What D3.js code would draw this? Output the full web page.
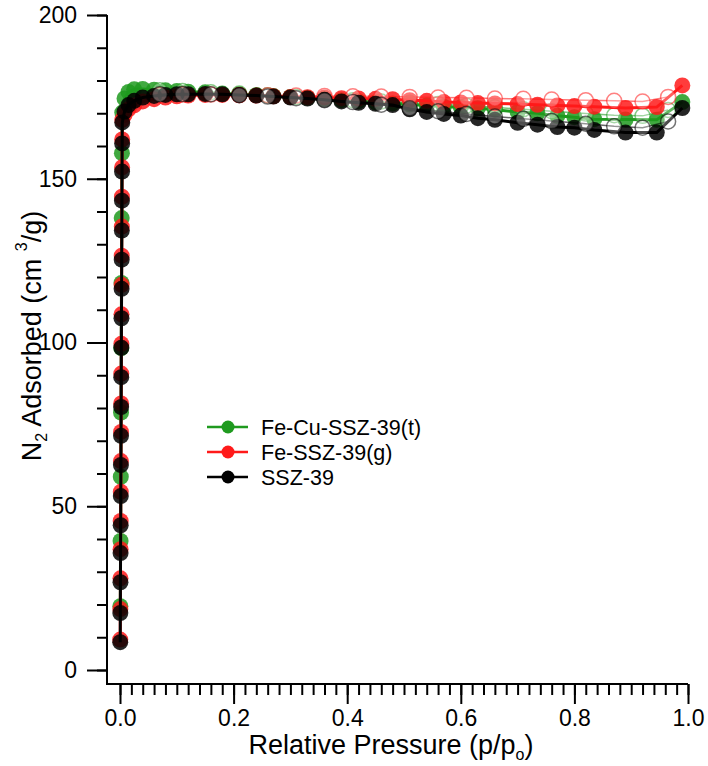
<!DOCTYPE html>
<html>
<head>
<meta charset="utf-8">
<script src="https://cdn.jsdelivr.net/npm/d3@7"></script>
<style>
  body { margin: 0; background: #fff; }
  text { font-family: "Liberation Sans", Arial, Helvetica, sans-serif; fill: #000; }
</style>
</head>
<body>
<div id="chartArea"></div>
<script>
// series names + colours
var seriesNames = ["Fe-Cu-SSZ-39(t)", "Fe-SSZ-39(g)", "SSZ-39"];
var seriesColors = ["#1f9a1f", "#ff1a1a", "#000000"];

// steep rise at p/po ~ 0 (adsorption)
var riseP = [0.0004, 0.0006, 0.0008, 0.001, 0.0012, 0.0014, 0.0016, 0.0018, 0.002, 0.0022,
             0.0024, 0.0026, 0.0028, 0.003, 0.0032, 0.0034, 0.0036, 0.0038, 0.004];
var greenRiseP = [0.0006, 0.001, 0.0014, 0.0018, 0.0022, 0.0026, 0.003, 0.0034, 0.004];
var greenRise = [19.5, 39.4, 59.0, 78.6, 98.3, 118.2, 138.0, 157.8, 170.2];
var redRise = [9.3, 18.6, 28.0, 36.9, 45.5, 54.4, 63.8, 72.7, 81.4, 90.5,
               99.6, 108.6, 117.6, 126.5, 135.4, 144.5, 153.5, 162.0, 168.0];
var blackRise = [8.5, 17.4, 26.8, 35.7, 44.2, 53.1, 62.6, 71.5, 80.3, 89.4,
                 98.4, 107.4, 116.4, 125.3, 134.2, 143.3, 152.2, 160.8, 167.2];

// knee + plateau (adsorption, filled)
var adsP = [0.008, 0.015, 0.025, 0.04, 0.06, 0.08, 0.1, 0.12, 0.15, 0.18, 0.21, 0.24, 0.27, 0.3,
            0.33, 0.36, 0.39, 0.42, 0.45, 0.48, 0.51, 0.54, 0.57, 0.6, 0.63, 0.66, 0.7, 0.735,
            0.77, 0.8, 0.835, 0.89, 0.945, 0.99];
var greenAds = [174.5, 176.5, 177.3, 177.4, 177.2, 177.0, 176.8, 176.6, 176.4, 176.0, 175.8, 175.6,
                175.3, 175.0, 174.7, 174.4, 174.0, 173.7, 173.3, 173.0, 172.7, 172.4, 172.0, 171.8,
                171.5, 171.1, 170.4, 170.0, 169.2, 168.8, 168.2, 168.1, 168.0, 173.4];
var redAds = [169.5, 171.2, 172.4, 173.6, 174.3, 174.8, 175.2, 175.4, 175.6, 175.6, 175.5, 175.4,
              175.2, 175.0, 174.9, 174.8, 174.6, 174.5, 174.4, 174.3, 174.0, 173.8, 173.4, 173.3,
              173.1, 173.0, 172.8, 172.6, 172.4, 172.2, 172.0, 171.6, 171.9, 178.5];
var blackAds = [170.5, 172.5, 173.8, 174.8, 175.3, 175.6, 175.8, 175.8, 175.9, 175.8, 175.6, 175.4,
                175.1, 174.8, 174.5, 174.1, 173.6, 173.2, 172.9, 172.5, 171.2, 170.4, 169.8, 169.3,
                168.5, 168.0, 167.1, 166.5, 165.8, 165.6, 164.9, 164.1, 164.1, 171.6];

// desorption branch (open circles)
var desP = [0.965, 0.92, 0.87, 0.82, 0.76, 0.71, 0.66, 0.61, 0.56, 0.51, 0.46, 0.41, 0.36,
            0.31, 0.26, 0.21, 0.16, 0.11, 0.07];
var greenDes = [171.0, 169.2, 169.4, 169.9, 170.6, 171.2, 171.8, 172.3, 172.8, 173.2, 173.6, 174.0,
                174.5, 175.0, 175.5, 176.0, 176.4, 176.8, 177.0];
var redDes = [175.0, 173.6, 173.8, 174.0, 174.2, 174.4, 174.5, 174.7, 174.8, 175.0, 175.1, 175.2,
              175.3, 175.4, 175.5, 175.6, 175.7, 175.7, 175.6];
var blackDes = [167.5, 165.6, 166.0, 166.8, 167.6, 168.3, 169.0, 169.8, 170.6, 171.5, 172.6, 173.4,
                174.0, 174.6, 175.1, 175.5, 175.8, 175.9, 175.8];

var xMajor = [0, 0.2, 0.4, 0.6, 0.8, 1.0];
var yMajor = [0, 50, 100, 150, 200];

var width = 708, height = 766;

var svg = d3.select("#chartArea")
    .append("svg")
    .attr("width", width)
    .attr("height", height)

var x = d3.scaleLinear().domain([0, 1]).range([120, 688]);
var y = d3.scaleLinear().domain([0, 200]).range([670, 15]);
var axisY = 684; // where the x axis line sits
var axisX = 107; // where the y axis line sits

// ---- axes
var xMinor = d3.range(0, 101, 2).map(d => d / 100);
var yMinorT = d3.range(0, 201, 10);

var xAxisG = svg.append("g").attr("transform", "translate(0," + axisY + ")");
xAxisG.append("g")
    .call(d3.axisBottom(x).tickValues(xMinor).tickSize(11).tickFormat(""))
xAxisG.append("g")
    .call(d3.axisBottom(x).tickValues(xMajor).tickSize(20).tickPadding(6).tickFormat(d3.format(".1f")))
xAxisG.selectAll(".domain").remove();
xAxisG.selectAll("line").attr("stroke", "#000").attr("stroke-width", 2);
xAxisG.selectAll("text").attr("font-size", 23).style("font-family", "'Liberation Sans', Arial, sans-serif");

var yAxisG = svg.append("g").attr("transform", "translate(" + axisX + ",0)");
yAxisG.append("g")
    .call(d3.axisLeft(y).tickValues(yMinorT).tickSize(10).tickFormat(""))
yAxisG.append("g")
    .call(d3.axisLeft(y).tickValues(yMajor).tickSize(20).tickPadding(10).tickFormat(d3.format("d")))
yAxisG.selectAll(".domain").remove();
yAxisG.selectAll("line").attr("stroke", "#000").attr("stroke-width", 2);
yAxisG.selectAll("text").attr("font-size", 23).style("font-family", "'Liberation Sans', Arial, sans-serif");

// axis lines (L shape)
svg.append("path")
    .attr("d", "M" + axisX + "," + y(200) + "V" + axisY + "H" + x(1))
    .attr("fill", "none")
    .attr("stroke", "#000")
    .attr("stroke-width", 2)

// ---- data
var series = [
  { name: seriesNames[0], color: seriesColors[0], riseP: greenRiseP, rise: greenRise, ads: greenAds, des: greenDes },
  { name: seriesNames[1], color: seriesColors[1], riseP: riseP, rise: redRise, ads: redAds, des: redDes },
  { name: seriesNames[2], color: seriesColors[2], riseP: riseP, rise: blackRise, ads: blackAds, des: blackDes }
];

var line = d3.line().x(d => x(d[0])).y(d => y(d[1]));
var plot = svg.append("g");

series.forEach(function(s) {
    var adsPts = s.riseP.map((p, i) => [p, s.rise[i]])
        .concat(adsP.map((p, i) => [p, s.ads[i]]));
    var desPts = desP.map((p, i) => [p, s.des[i]]);
    var g = plot.append("g");

    g.append("path")
        .datum(desPts)
        .attr("d", line)
        .attr("fill", "none")
        .attr("stroke", s.color)
        .attr("stroke-opacity", 0.6)
        .attr("stroke-width", 1.5)

    g.append("path")
        .datum(adsPts)
        .attr("d", line)
        .attr("fill", "none")
        .attr("stroke", s.color)
        .attr("stroke-width", 3)

    g.selectAll(".ads")
        .data(adsPts)
        .enter().append("circle")
        .attr("class", "ads")
        .attr("cx", d => x(d[0]))
        .attr("cy", d => y(d[1]))
        .attr("r", 8)
        .attr("fill", s.color)
        .attr("fill-opacity", 0.85)

    g.selectAll(".des")
        .data(desPts)
        .enter().append("circle")
        .attr("class", "des")
        .attr("cx", d => x(d[0]))
        .attr("cy", d => y(d[1]))
        .attr("r", 7.5)
        .attr("fill", "#fff")
        .attr("fill-opacity", 0.3)
        .attr("stroke", s.color)
        .attr("stroke-opacity", 0.55)
        .attr("stroke-width", 1.5)
});

// ---- legend
var legend = svg.append("g").attr("transform", "translate(207,427)");
var item = legend.selectAll("g")
    .data(series)
    .enter().append("g")
    .attr("transform", (d, i) => "translate(0," + (i * 25) + ")")
item.append("line")
    .attr("x1", 0).attr("x2", 41)
    .attr("stroke", d => d.color)
    .attr("stroke-width", 2.5)
item.append("circle")
    .attr("cx", 21)
    .attr("r", 6.5)
    .attr("fill", d => d.color)
item.append("text")
    .attr("x", 54)
    .attr("y", 7.5)
    .attr("font-size", 21.5)
    .text(d => d.name)

// ---- titles
var xTitle = svg.append("text")
    .attr("x", 391)
    .attr("y", 754)
    .attr("text-anchor", "middle")
    .attr("font-size", 27)
xTitle.append("tspan").text("Relative Pressure (p/p");
xTitle.append("tspan").attr("font-size", 16).attr("dy", 6).text("o");
xTitle.append("tspan").attr("dy", -6).text(")");

var yTitle = svg.append("text")
    .attr("transform", "translate(41,336) rotate(-90)")
    .attr("text-anchor", "middle")
    .attr("font-size", 27)
yTitle.append("tspan").text("N");
yTitle.append("tspan").attr("font-size", 16).attr("dy", 6).text("2");
yTitle.append("tspan").attr("dy", -6).text(" Adsorbed (cm  ");
yTitle.append("tspan").attr("font-size", 16).attr("dy", -14).text("3");
yTitle.append("tspan").attr("dy", 14).text("/g)");
</script>
</body>
</html>
